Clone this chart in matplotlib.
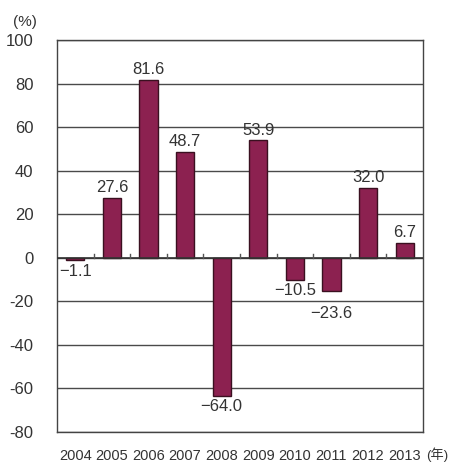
import numpy as np
import matplotlib.pyplot as plt
from matplotlib import font_manager

# dados
years = ['2004', '2005', '2006', '2007', '2008', '2009', '2010', '2011', '2012', '2013']
heights = [-1.1, 27.6, 81.6, 48.7, -63.5, 53.9, -10.4, -15.2, 32.0, 6.7]
labels = ['−1.1', '27.6', '81.6', '48.7', '−64.0', '53.9', '−10.5', '−23.6', '32.0', '6.7']
yticks = [-80, -60, -40, -20, 0, 20, 40, 60, 80, 100]

names = {f.name for f in font_manager.fontManager.ttflist}
fam = 'Liberation Sans Narrow' if 'Liberation Sans Narrow' in names else 'Liberation Sans'
plt.rcParams['font.family'] = [fam, 'Noto Sans CJK JP', 'DejaVu Sans']

fig = plt.figure(figsize=(4.54, 4.66), dpi=100)
ax = fig.add_axes([0.1256, 0.073, 0.806, 0.841])

x = np.arange(len(years))
ax.bar(x, heights, width=0.5, color='#8c2150', edgecolor='#3a1020', linewidth=1.0, zorder=3)

ax.set_xlim(-0.5, len(years) - 0.5)
ax.set_ylim(-80, 100)
ax.set_yticks(yticks)
ax.set_yticklabels([str(t) for t in yticks])
ax.yaxis.grid(True, color='#4a4a4a', linewidth=1.0, zorder=0)
ax.axhline(0, color='#333333', linewidth=1.2, zorder=4)

# pequenos tracos entre as categorias
for b in x[:-1] + 0.5:
    ax.plot([b, b], [0, 1.6], color='#555555', linewidth=1.0, zorder=4)

ax.set_xticks(x)
ax.set_xticklabels(years)
ax.tick_params(axis='both', length=0, colors='#333333')
ax.tick_params(axis='x', pad=12, labelsize=10.5)
ax.tick_params(axis='y', pad=17, labelsize=12)
for s in ax.spines.values():
    s.set_color('#444444')
    s.set_linewidth(1.0)

# valores
for i, (h, t) in enumerate(zip(heights, labels)):
    if h >= 0:
        ax.annotate(t, (i, h), xytext=(0, 2), textcoords='offset points',
                    ha='center', va='bottom', fontsize=12, color='#333333', zorder=5)
    else:
        off = -2 if i != 7 else -11
        ax.annotate(t, (i, min(h, -1.5)), xytext=(0, off), textcoords='offset points',
                    ha='center', va='top', fontsize=12, color='#333333', zorder=5)

fig.text(13 / 454, 1 - 22 / 466, '(%)', fontsize=11, color='#333333', va='center', ha='left')
fig.text(426 / 454, 1 - 455 / 466, '(年)', fontsize=9.5, color='#333333', va='center', ha='left')

fig.savefig('out.png', dpi=100)
